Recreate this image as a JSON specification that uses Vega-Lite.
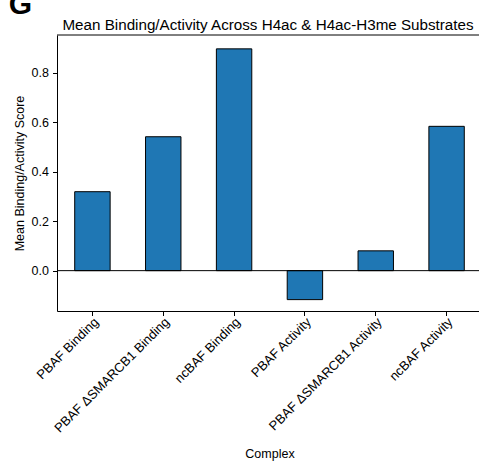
{
  "$schema": "https://vega.github.io/schema/vega-lite/v6.json",
  "width": 422,
  "height": 276,
  "autosize": {"type": "none"},
  "padding": {"left": 57, "top": 35, "right": 0, "bottom": 151},
  "background": "white",
  "config": {
    "font": "Liberation Sans",
    "view": {"stroke": null},
    "axis": {"grid": false, "domainColor": "black", "tickColor": "black", "labelColor": "black", "titleColor": "black", "titleFontWeight": "normal", "tickSize": 4.5}
  },
  "title": {"text": "Mean Binding/Activity Across H4ac & H4ac-H3me Substrates", "fontSize": 15.2, "fontWeight": "normal", "color": "black", "anchor": "middle", "offset": -44},
  "data": {"values": [
    {"complex": "PBAF Binding", "score": 0.319},
    {"complex": "PBAF ΔSMARCB1 Binding", "score": 0.541},
    {"complex": "ncBAF Binding", "score": 0.896},
    {"complex": "PBAF Activity", "score": -0.117},
    {"complex": "PBAF ΔSMARCB1 Activity", "score": 0.080},
    {"complex": "ncBAF Activity", "score": 0.583}
  ]},
  "layer": [
    {
      "mark": {"type": "bar", "fill": "#1f77b4", "stroke": "black", "strokeWidth": 1},
      "encoding": {
        "x": {"field": "complex", "type": "nominal", "sort": null,
          "scale": {"domain": ["PBAF Binding", "PBAF ΔSMARCB1 Binding", "ncBAF Binding", "PBAF Activity", "PBAF ΔSMARCB1 Activity", "ncBAF Activity"], "range": [0, 425], "paddingInner": 0.5, "paddingOuter": 0.25},
          "axis": {"title": "Complex", "titleFontSize": 12.5, "titlePadding": 13, "labelAngle": -45, "labelAlign": "right", "labelBaseline": "middle", "labelFontSize": 13, "labelOffset": 4, "labelPadding": 4}},
        "y": {"field": "score", "type": "quantitative",
          "scale": {"domain": [-0.163, 0.952], "nice": false, "zero": false},
          "axis": {"title": "Mean Binding/Activity Score", "values": [0, 0.2, 0.4, 0.6, 0.8], "format": ".1f", "labelFontSize": 12.5, "labelPadding": 4, "titleFontSize": 12.5, "titlePadding": 5}}
      }
    },
    {
      "data": {"values": [{}]},
      "mark": {"type": "rule", "color": "black", "strokeWidth": 1},
      "encoding": {"y": {"datum": 0}}
    },
    {
      "data": {"values": [{}]},
      "mark": {"type": "rule", "color": "black", "strokeWidth": 1},
      "encoding": {"y": {"datum": 0.952}}
    },
    {
      "data": {"values": [{}]},
      "mark": {"type": "text", "text": "G", "fontSize": 30, "fontWeight": "bold", "align": "left", "baseline": "alphabetic", "dx": -66, "dy": -21.5, "color": "black"},
      "encoding": {"x": {"datum": "PBAF Binding", "bandPosition": 0}, "y": {"datum": 0.952}}
    }
  ]
}
